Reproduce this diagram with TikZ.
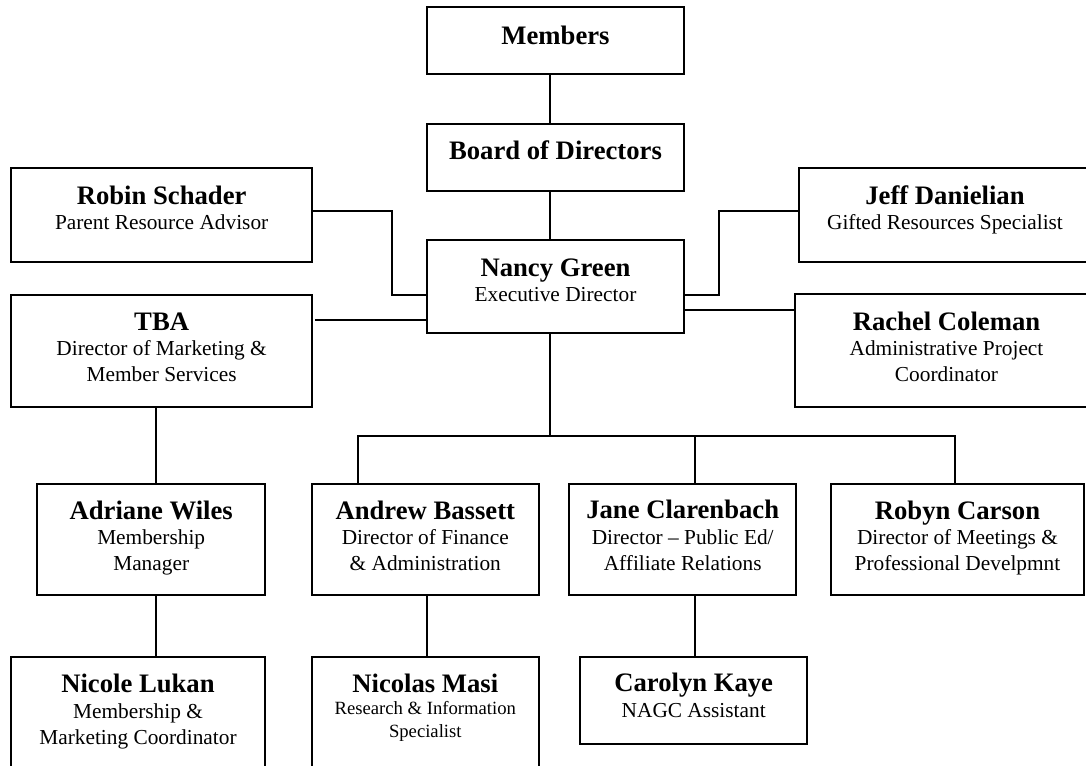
\documentclass[tikz,border=0pt]{standalone}
\usepackage{fontspec}
\setmainfont{Liberation Serif}
\newcommand\nm[1]{{\fontsize{20}{19.4}\selectfont\bfseries #1}}
\newcommand\orgbox[5]{\node[obox, minimum width={(#4-#2)*0.75pt}, minimum height={(#5-#3)*0.75pt}, anchor=north west] (#1) at (#2,#3) {};}
\newcommand\orgtext[4]{\node[otext] (#1) at (#2,#3) {\parbox[t]{330pt}{\centering #4}};}
\begin{document}
\begin{tikzpicture}[x=0.75pt,y=-0.75pt,
  obox/.style={draw, line width=1.4pt, inner sep=0pt, outer sep=0pt, fill=white},
  otext/.style={anchor=base, inner sep=0pt, outer sep=0pt},
  link/.style={line width=1.4pt}]
\useasboundingbox (0,0) rectangle (1086,765);
% boxes
\orgbox{members}{426.7}{7.3}{684.3}{74}
\orgbox{board}{426.7}{124}{684.3}{190.7}
\orgbox{nancy}{426.7}{240}{684.3}{333.3}
\orgbox{robin}{11}{168.3}{312.3}{261.7}
\orgbox{tba}{11}{295}{312.3}{406.7}
\orgbox{jeff}{799.3}{168.3}{1090.7}{261.7}
\orgbox{rachel}{795.3}{294.3}{1097.7}{406.7}
\orgbox{adriane}{37.3}{484.3}{265}{595}
\orgbox{andrew}{311.7}{484.3}{539}{595}
\orgbox{jane}{569}{484.3}{796.3}{595}
\orgbox{robyn}{831.3}{484.3}{1083.7}{595}
\orgbox{nicole}{11}{656.7}{265}{775}
\orgbox{nicolas}{311.7}{656.7}{539}{775}
\orgbox{carolyn}{580}{657.3}{807.3}{744.3}
% texts
\orgtext{members-t}{555.5}{44.3}{\nm{Members}}
\orgtext{board-t}{555.5}{159.5}{\nm{Board of Directors}}
\orgtext{nancy-t}{555.5}{276}{\fontsize{16}{19.4}\selectfont\nm{Nancy Green}\\Executive Director}
\orgtext{robin-t}{161.65}{204}{\fontsize{16}{19.4}\selectfont\nm{Robin Schader}\\Parent Resource Advisor}
\orgtext{tba-t}{161.65}{330}{\fontsize{16}{19.4}\selectfont\nm{TBA}\\Director of Marketing \&\\Member Services}
\orgtext{jeff-t}{945}{204}{\fontsize{16}{19.4}\selectfont\nm{Jeff Danielian}\\Gifted Resources Specialist}
\orgtext{rachel-t}{946.5}{330}{\fontsize{16}{19.4}\selectfont\nm{Rachel Coleman}\\Administrative Project\\Coordinator}
\orgtext{adriane-t}{151.2}{519}{\fontsize{16}{19.4}\selectfont\nm{Adriane Wiles}\\Membership\\Manager}
\orgtext{andrew-t}{425.3}{519}{\fontsize{16}{19.4}\selectfont\nm{Andrew Bassett}\\Director of Finance\\\& Administration}
\orgtext{jane-t}{682.7}{518.5}{\fontsize{16}{19.4}\selectfont\nm{Jane Clarenbach}\\Director – Public Ed/\\Affiliate Relations}
\orgtext{robyn-t}{957.5}{519}{\fontsize{16}{19.4}\selectfont\nm{Robyn Carson}\\Director of Meetings \&\\Professional Develpmnt}
\orgtext{nicole-t}{138}{692.3}{\fontsize{16}{19.4}\selectfont\nm{Nicole Lukan}\\Membership \&\\Marketing Coordinator}
\orgtext{nicolas-t}{425.3}{692.3}{\fontsize{14}{16.8}\selectfont\nm{Nicolas Masi}\\Research \& Information\\Specialist}
\orgtext{carolyn-t}{693.7}{691.7}{\fontsize{16}{19.4}\selectfont\nm{Carolyn Kaye}\\NAGC Assistant}
% connectors
\draw[link] (members.south -| 550,0) -- (board.north -| 550,0);
\draw[link] (board.south -| 550,0) -- (nancy.north -| 550,0);
\draw[link] (robin.east |- 0,211) -| (392.3,295) -- (nancy.west |- 0,295);
\draw[link] ([xshift=2pt]tba.east |- 0,320) -- (nancy.west |- 0,320);
\draw[link] (nancy.east |- 0,295) -| (719.3,211) -- (jeff.west |- 0,211);
\draw[link] (nancy.east |- 0,310) -- (rachel.west |- 0,310);
\draw[link] (nancy.south -| 550,0) -- (550,436) coordinate (busc);
\draw[link] (andrew.north -| 358.3,0) |- (busc) -| (robyn.north -| 955.3,0);
\draw[link] (jane.north -| 695,0) -- (busc -| 695,0);
\draw[link] (jane.south -| 695,0) -- (carolyn.north -| 695,0);
\draw[link] (andrew.south -| 426.7,0) -- (nicolas.north -| 426.7,0);
\draw[link] (tba.south -| 156,0) -- (adriane.north -| 156,0);
\draw[link] (adriane.south -| 156,0) -- (nicole.north -| 156,0);
\end{tikzpicture}
\end{document}
